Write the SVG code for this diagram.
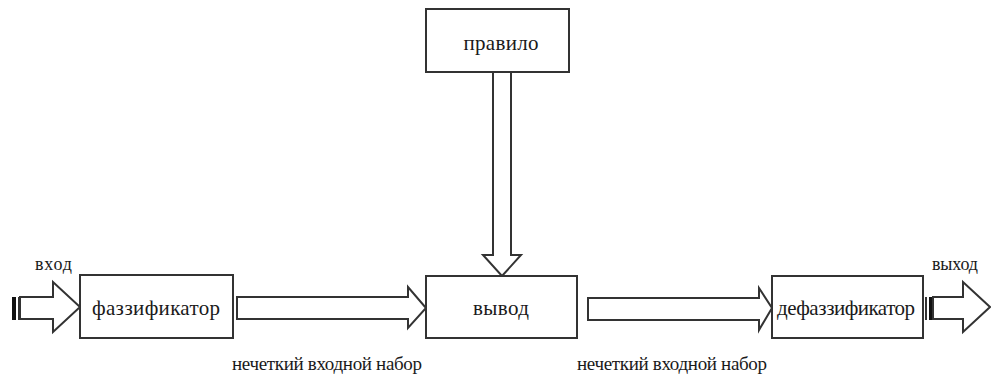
<svg xmlns="http://www.w3.org/2000/svg" width="991" height="376" viewBox="0 0 991 376">
<style>
.box{fill:#fff;stroke:#333;stroke-width:2}
.arr{fill:#fff;stroke:#333;stroke-width:2;stroke-linejoin:miter}
.t{font-family:"Liberation Serif","Times New Roman","DejaVu Serif",serif;fill:#1a1a1a;text-anchor:middle}
.big{font-size:21px}
.sm{font-size:19px;text-anchor:start}
.lab{font-size:18px;text-anchor:start}
</style>
<rect width="991" height="376" fill="#fff"/>
<g id="connectors">
<g id="in-arrow">
<rect x="12" y="297" width="4" height="23" fill="#111"/>
<line x1="19" y1="297" x2="19" y2="320" stroke="#333" stroke-width="2"/>
<path class="arr" d="M20,297 H53 V282 L80,307 L53,332 V319 H20 Z"/>
</g>
<path class="arr" d="M237,297 H408 V287 L426,308 L408,328 V319 H237 Z"/>
<path class="arr" d="M493,72 V255 H483 L502,276 L521,255 H511 V72"/>
<path class="arr" d="M588,298 H759 V288 L772,308 L759,330 V320 H588 Z"/>
<g id="out-arrow">
<line x1="926" y1="297" x2="926" y2="320" stroke="#333" stroke-width="2"/>
<rect x="929" y="297" width="4" height="23" fill="#111"/>
<path class="arr" d="M933,297 H963 V282 L990,307 L963,332 V319 H933 Z"/>
</g>
</g>
<g id="fuzzifier">
<rect class="box" x="80" y="275" width="153" height="63"/>
<text class="t big" x="156" y="315" textLength="128">фаззификатор</text>
</g>
<g id="rule">
<rect class="box" x="426" y="9" width="143" height="63"/>
<text class="t big" x="501" y="50" textLength="75">правило</text>
</g>
<g id="inference">
<rect class="box" x="426" y="276" width="151" height="62"/>
<text class="t big" x="501" y="315" textLength="56">вывод</text>
</g>
<g id="defuzzifier">
<rect class="box" x="772" y="276" width="151" height="62"/>
<text class="t big" x="846" y="315" textLength="138">дефаззификатор</text>
</g>
<g id="labels">
<text class="t lab" x="35" y="270" textLength="37">вход</text>
<text class="t lab" x="932" y="270" textLength="46">выход</text>
<text class="t sm" x="232" y="370" textLength="190">нечеткий входной набор</text>
<text class="t sm" x="577" y="370" textLength="190">нечеткий входной набор</text>
</g>
</svg>
